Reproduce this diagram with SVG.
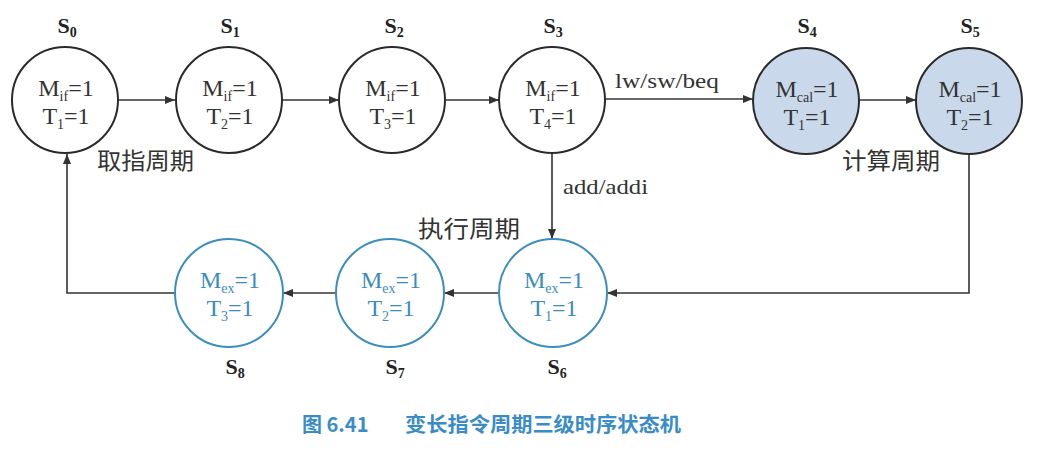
<svg xmlns="http://www.w3.org/2000/svg" width="1048" height="455" viewBox="0 0 1048 455">
<defs>
<marker id="ah" viewBox="0 0 10 8" refX="10" refY="4" markerWidth="10" markerHeight="8" markerUnits="userSpaceOnUse" orient="auto">
<path d="M0,0 L10,4 L0,8 z" fill="#333"/>
</marker>
<style>
.c{fill:#fff;stroke:#2a2a2a;stroke-width:2}
.cal{fill:#c9d8ea;stroke:#2a2a2a;stroke-width:2}
.ex{fill:#fff;stroke:#3a8fc0;stroke-width:2}
.t{font-family:"Liberation Serif",serif;font-size:24px;fill:#333;text-anchor:middle}
.tb{fill:#3a8cc0}
.s{font-family:"Liberation Serif",serif;font-size:22px;font-weight:bold;fill:#222;text-anchor:middle}
.sub{font-size:14px}
.lb{font-family:"Liberation Serif",serif;font-size:22px;fill:#333}
.cj{font-family:"Noto Sans CJK SC",sans-serif;font-size:23px;fill:#333}
.e{fill:none;stroke:#333;stroke-width:1.6;marker-end:url(#ah)}
.cap{font-family:"Noto Sans CJK SC",sans-serif;font-size:20px;font-weight:bold;fill:#3a8cc8}
</style>
</defs>
<rect width="1048" height="455" fill="#fff"/>
<g id="connectors">
<line class="e" x1="118" y1="100" x2="175" y2="100"/>
<line class="e" x1="282" y1="100" x2="339" y2="100"/>
<line class="e" x1="445" y1="100" x2="499" y2="100"/>
<line class="e" x1="605" y1="99" x2="753" y2="99"/>
<line class="e" x1="859" y1="100" x2="916" y2="100"/>
<line class="e" x1="552" y1="153" x2="552" y2="239"/>
<path class="e" d="M969,154 L969,293 L607,293"/>
<line class="e" x1="499" y1="293" x2="444" y2="293"/>
<line class="e" x1="337" y1="293" x2="283" y2="293"/>
<path class="e" d="M176,293 L67,293 L67,154"/>
<text class="lb" x="615" y="88" textLength="104" lengthAdjust="spacingAndGlyphs">lw/sw/beq</text>
<text class="lb" x="563" y="194" textLength="85" lengthAdjust="spacingAndGlyphs">add/addi</text>
</g>
<g id="S0">
<circle class="c" cx="65" cy="100" r="53"/>
<text class="s" x="67" y="33">S<tspan class="sub" dy="4">0</tspan></text>
<text class="t" x="66" y="96">M<tspan class="sub" dy="5">if</tspan><tspan dy="-5">=1</tspan></text>
<text class="t" x="66" y="124">T<tspan class="sub" dy="5">1</tspan><tspan dy="-5">=1</tspan></text>
</g>
<g id="S1">
<circle class="c" cx="229" cy="100" r="53"/>
<text class="s" x="230" y="33">S<tspan class="sub" dy="4">1</tspan></text>
<text class="t" x="230" y="96">M<tspan class="sub" dy="5">if</tspan><tspan dy="-5">=1</tspan></text>
<text class="t" x="230" y="124">T<tspan class="sub" dy="5">2</tspan><tspan dy="-5">=1</tspan></text>
</g>
<g id="S2">
<circle class="c" cx="392" cy="100" r="53"/>
<text class="s" x="394" y="33">S<tspan class="sub" dy="4">2</tspan></text>
<text class="t" x="393" y="96">M<tspan class="sub" dy="5">if</tspan><tspan dy="-5">=1</tspan></text>
<text class="t" x="393" y="124">T<tspan class="sub" dy="5">3</tspan><tspan dy="-5">=1</tspan></text>
</g>
<g id="S3">
<circle class="c" cx="552" cy="100" r="53"/>
<text class="s" x="553" y="33">S<tspan class="sub" dy="4">3</tspan></text>
<text class="t" x="553" y="96">M<tspan class="sub" dy="5">if</tspan><tspan dy="-5">=1</tspan></text>
<text class="t" x="553" y="124">T<tspan class="sub" dy="5">4</tspan><tspan dy="-5">=1</tspan></text>
</g>
<g id="S4">
<circle class="cal" cx="806" cy="101" r="53"/>
<text class="s" x="807" y="33">S<tspan class="sub" dy="4">4</tspan></text>
<text class="t" x="807" y="97">M<tspan class="sub" dy="5">cal</tspan><tspan dy="-5">=1</tspan></text>
<text class="t" x="807" y="125">T<tspan class="sub" dy="5">1</tspan><tspan dy="-5">=1</tspan></text>
</g>
<g id="S5">
<circle class="cal" cx="969" cy="101" r="53"/>
<text class="s" x="970" y="33">S<tspan class="sub" dy="4">5</tspan></text>
<text class="t" x="970" y="97">M<tspan class="sub" dy="5">cal</tspan><tspan dy="-5">=1</tspan></text>
<text class="t" x="970" y="125">T<tspan class="sub" dy="5">2</tspan><tspan dy="-5">=1</tspan></text>
</g>
<g id="S6">
<circle class="ex" cx="553" cy="293" r="54"/>
<text class="s" x="557" y="374">S<tspan class="sub" dy="4">6</tspan></text>
<text class="t tb" x="554" y="288">M<tspan class="sub" dy="5">ex</tspan><tspan dy="-5">=1</tspan></text>
<text class="t tb" x="554" y="316">T<tspan class="sub" dy="5">1</tspan><tspan dy="-5">=1</tspan></text>
</g>
<g id="S7">
<circle class="ex" cx="390" cy="293" r="54"/>
<text class="s" x="395" y="374">S<tspan class="sub" dy="4">7</tspan></text>
<text class="t tb" x="391" y="288">M<tspan class="sub" dy="5">ex</tspan><tspan dy="-5">=1</tspan></text>
<text class="t tb" x="391" y="316">T<tspan class="sub" dy="5">2</tspan><tspan dy="-5">=1</tspan></text>
</g>
<g id="S8">
<circle class="ex" cx="229" cy="293" r="54"/>
<text class="s" x="235" y="374">S<tspan class="sub" dy="4">8</tspan></text>
<text class="t tb" x="230" y="288">M<tspan class="sub" dy="5">ex</tspan><tspan dy="-5">=1</tspan></text>
<text class="t tb" x="230" y="316">T<tspan class="sub" dy="5">3</tspan><tspan dy="-5">=1</tspan></text>
</g>
<g id="labels">
<text class="cj" x="97" y="169" textLength="97" lengthAdjust="spacingAndGlyphs">取指周期</text>
<text class="cj" x="842" y="169" textLength="98" lengthAdjust="spacingAndGlyphs">计算周期</text>
<text class="cj" x="418" y="237" textLength="102" lengthAdjust="spacingAndGlyphs">执行周期</text>
</g>
<g id="caption">
<text class="cap" x="302" y="432">图 6.41</text>
<text class="cap" x="405" y="432" textLength="276" lengthAdjust="spacingAndGlyphs">变长指令周期三级时序状态机</text>
</g>
</svg>
